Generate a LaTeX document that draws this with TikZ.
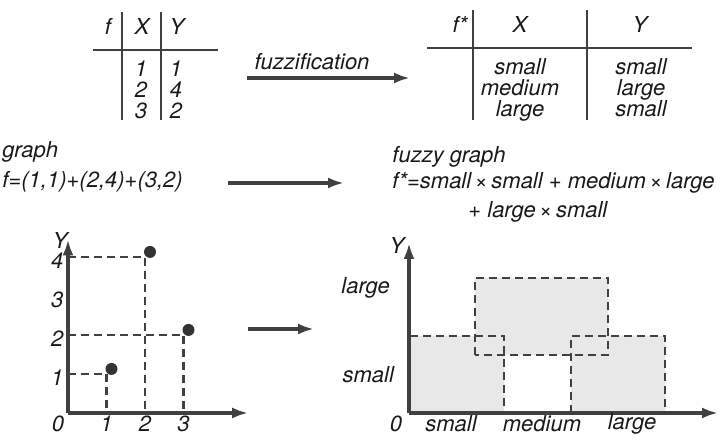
\documentclass[tikz,border=0pt]{standalone}
\usepackage{fontspec}
\setmainfont{TeX Gyre Heros}
\usetikzlibrary{arrows.meta,positioning}

\tikzset{
  ink/.style={draw=black!75, line width=1.3pt},
  arrow/.style={draw=black!75, line width=1.6pt, -{Latex[length=8pt,width=5.5pt]}},
  guide/.style={draw=black!75, line width=1.3pt, dash pattern=on 4pt off 2.5pt},
  pnt/.style={circle, fill=black!80, inner sep=0pt, minimum size=6pt},
  lbl/.style={anchor=west, inner sep=0pt},
  cell/.style={inner sep=0pt, anchor=base},
  tick/.style={inner sep=0pt},
}

\begin{document}
\begin{tikzpicture}[x=0.5pt, y=-0.5pt, font=\fontsize{11}{13}\selectfont\itshape, text=black!90]
    \useasboundingbox (0,0) rectangle (728,437);
    % crisp table
    \draw[ink] (122,12) -- (122,120) (161,12) -- (161,120) (93,50) -- (218,50);
    \node[cell] (fhead) at (108,35) {f};
    \node[cell] (xhead) at (142,35) {X};
    \node[cell] (yhead) at (177,35) {Y};
    \foreach \r/\a/\b in {1/1/1, 2/2/4, 3/3/2} {
        \node[cell] (x\r) at (141,56+21*\r) {\a};
        \node[cell] (y\r) at (176,56+21*\r) {\b};
    }
    % fuzzy table
    \draw[ink] (473,10) -- (473,120) (587,10) -- (587,120) (427,48) -- (692,48);
    \node[cell] (fshead) at (460,33) {f*};
    \node[cell] (xshead) at (520,33) {X};
    \node[cell] (yshead) at (640,33) {Y};
    \foreach \r/\a/\b in {1/small/small, 2/medium/large, 3/large/small} {
        \node[cell] (xs\r) at (520,54+21*\r) {\a};
        \node[cell] (ys\r) at (641,54+21*\r) {\b};
    }
    \coordinate (fzA) at (247,78);
    \coordinate (fzB) at (410,78);
    \draw[arrow] (fzA) -- (fzB);
    \node (fuzz) at (312,62) {fuzzification};
    % graph and fuzzy graph
    \node[lbl] (graph) at (2,152) {graph};
    \node[lbl] (fsum) at (2,182) {f=(1,1)+(2,4)+(3,2)};
    \coordinate (grA) at (228,183);
    \coordinate (grB) at (344,183);
    \draw[arrow] (grA) -- (grB);
    \node[lbl] (fgraph) at (392,157) {fuzzy graph};
    \node[lbl] (fssum) at (392,183) {f*=small\,×\,small + medium\,×\,large};
    \node[lbl] (fssum2) at (468,212) {+ large\,×\,small};
    % crisp plot
    \begin{scope}[shift={(68,413)}, x=19.25pt, y=19.5pt]
        \draw[guide] (0,1) -| (1,0);
        \draw[guide] (0,4) -| (2,0);
        \draw[guide] (0,2) -| (3,0);
        \draw[arrow] (0,0) -- (4.68,0);
        \draw[arrow] (0,0) -- (0,4.45);
        \node[tick] (ylab) at (-0.2,4.42) {Y};
        \node[tick] (o) at (-0.26,-0.28) {0};
        \foreach \n in {1,...,3}
            \node[tick] (tx\n) at (\n,-0.28) {\n};
        \foreach \n in {1,...,4}
            \node[tick] (ty\n) at (-0.28,\n-0.1) {\n};
        \foreach \px/\py in {1/1, 2/4, 3/2}
            \node[pnt] (p\px) at (\px+0.13,\py+0.13) {};
    \end{scope}
    \coordinate (mdA) at (248,329);
    \coordinate (mdB) at (314,329);
    \draw[arrow] (mdA) -- (mdB);
    % fuzzy plot
    \begin{scope}[shift={(409,413)}]
        \fill[black!9] (0,0) rectangle (95,-77) (66,-58) rectangle (199,-135)
            (162,0) rectangle (256,-77);
        \draw[guide] (0,0) rectangle (95,-77);
        \draw[guide] (66,-58) rectangle (199,-135);
        \draw[guide] (162,0) rectangle (256,-77);
        \draw[arrow] (0,0) -- (309,0);
        \draw[arrow] (0,0) -- (0,-170);
        \node[tick] (ylab2) at (-12,-168) {Y};
        \node[tick] (o2) at (-13,11) {0};
        \node[tick] (sx) at (42,11) {small};
        \node[tick] (mx) at (133,11) {medium};
        \node[tick] (lx) at (223,11) {large};
        \node[anchor=east] (ly) at (-12,-125) {large};
        \node[anchor=east] (sy) at (-8,-38) {small};
    \end{scope}
\end{tikzpicture}
\end{document}
